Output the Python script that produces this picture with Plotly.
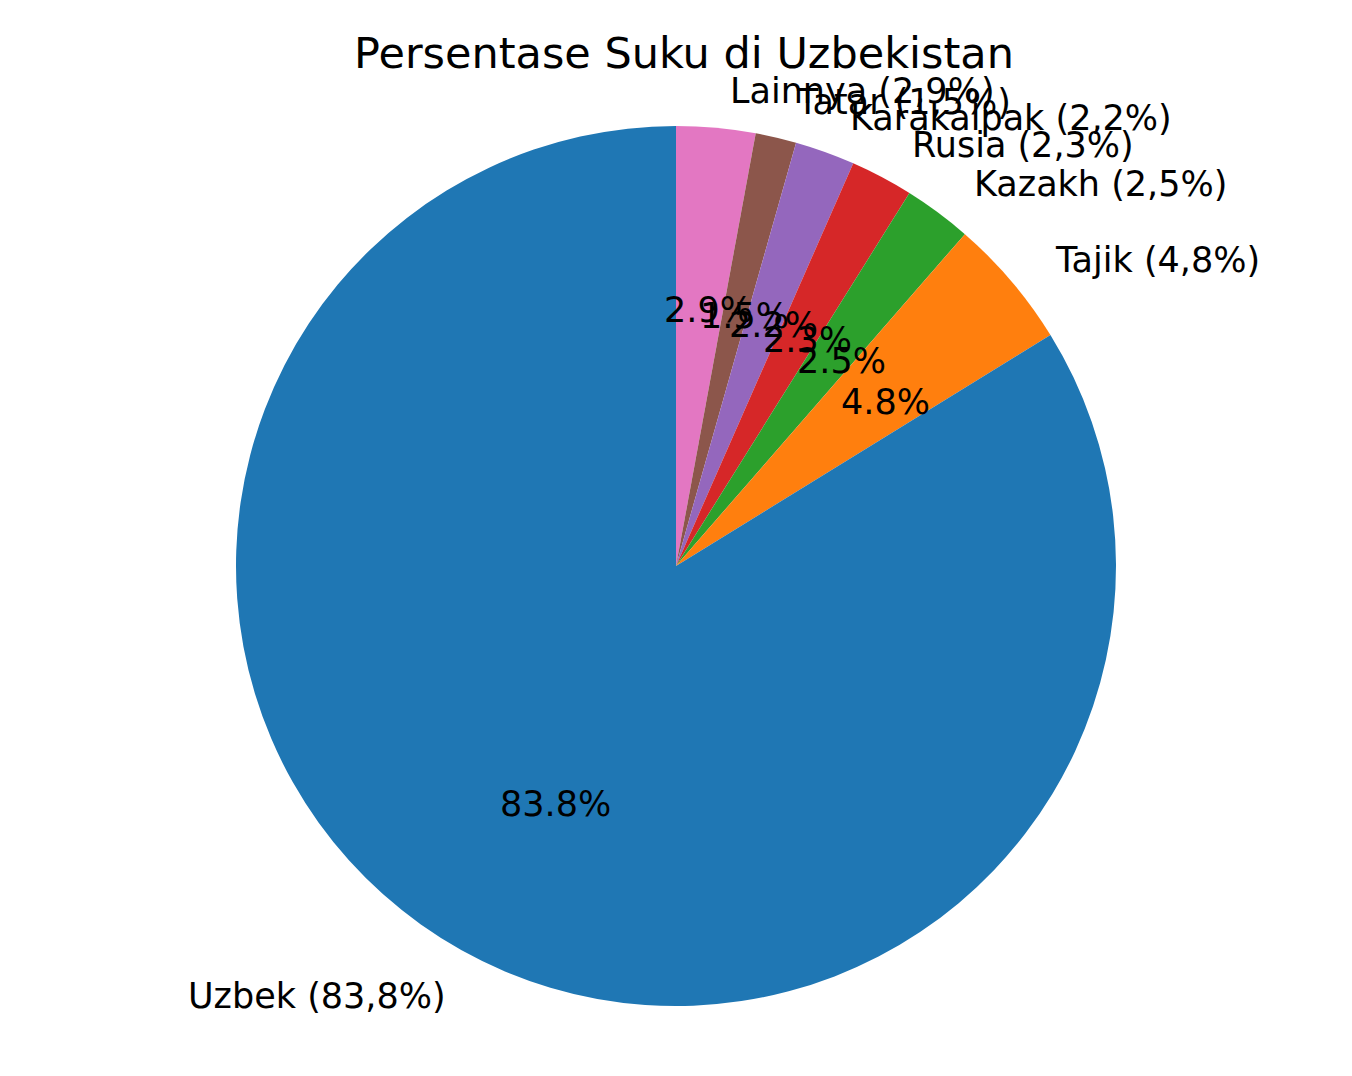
import math
import plotly.graph_objects as go

labels = ["Uzbek", "Tajik", "Kazakh", "Rusia", "Karakalpak", "Tatar", "Lainnya"]
values = [83.8, 4.8, 2.5, 2.3, 2.2, 1.5, 2.9]
colors = ["#1f77b4", "#ff7f0e", "#2ca02c", "#d62728", "#9467bd", "#8c564b", "#e377c2"]

W, H = 1352, 1076
cx, cy, R = 676, 1076 - 565, 440
# small correction for plotly's pie placement inside its domain
dcx, dcy = -8, 7

# matplotlib draws counterclockwise from the top; same as clockwise with reversed order
fig = go.Figure(go.Pie(
    labels=labels[::-1], values=values[::-1], sort=False, direction="clockwise",
    marker=dict(colors=colors[::-1], line=dict(width=0)),
    textinfo="none", showlegend=False,
    domain=dict(x=[(cx + dcx - R) / W, (cx + dcx + R) / W],
                y=[(cy + dcy - R) / H, (cy + dcy + R) / H]),
))

# labels placed like matplotlib: percent at 0.6 R, name at 1.1 R
total = sum(values)
start = 90.0
font = dict(family="DejaVu Sans", size=35, color="black")
for lab, v in zip(labels, values):
    mid = math.radians(start + v / total * 360 / 2)
    start += v / total * 360
    c, s = math.cos(mid), math.sin(mid)
    fig.add_annotation(x=(cx + 0.6 * R * c) / W, y=(cy + 0.6 * R * s) / H,
                       xref="paper", yref="paper", showarrow=False,
                       text="%.1f%%" % (v / total * 100), font=font,
                       xanchor="center", yanchor="middle")
    fig.add_annotation(x=(cx + 1.1 * R * c) / W, y=(cy + 1.1 * R * s) / H,
                       xref="paper", yref="paper", showarrow=False,
                       text="%s (%s%%)" % (lab, ("%.1f" % v).replace(".", ",")),
                       font=font, xanchor="left" if c > 0 else "right",
                       yanchor="middle")

fig.update_layout(
    width=W, height=H, margin=dict(l=0, r=0, t=0, b=0),
    paper_bgcolor="white", plot_bgcolor="white",
    title=dict(text="Persentase Suku di Uzbekistan", x=0.5, xanchor="center",
               y=1 - 45 / H, yanchor="middle",
               font=dict(family="DejaVu Sans", size=43, color="black")),
)

fig.write_html("out.html")
